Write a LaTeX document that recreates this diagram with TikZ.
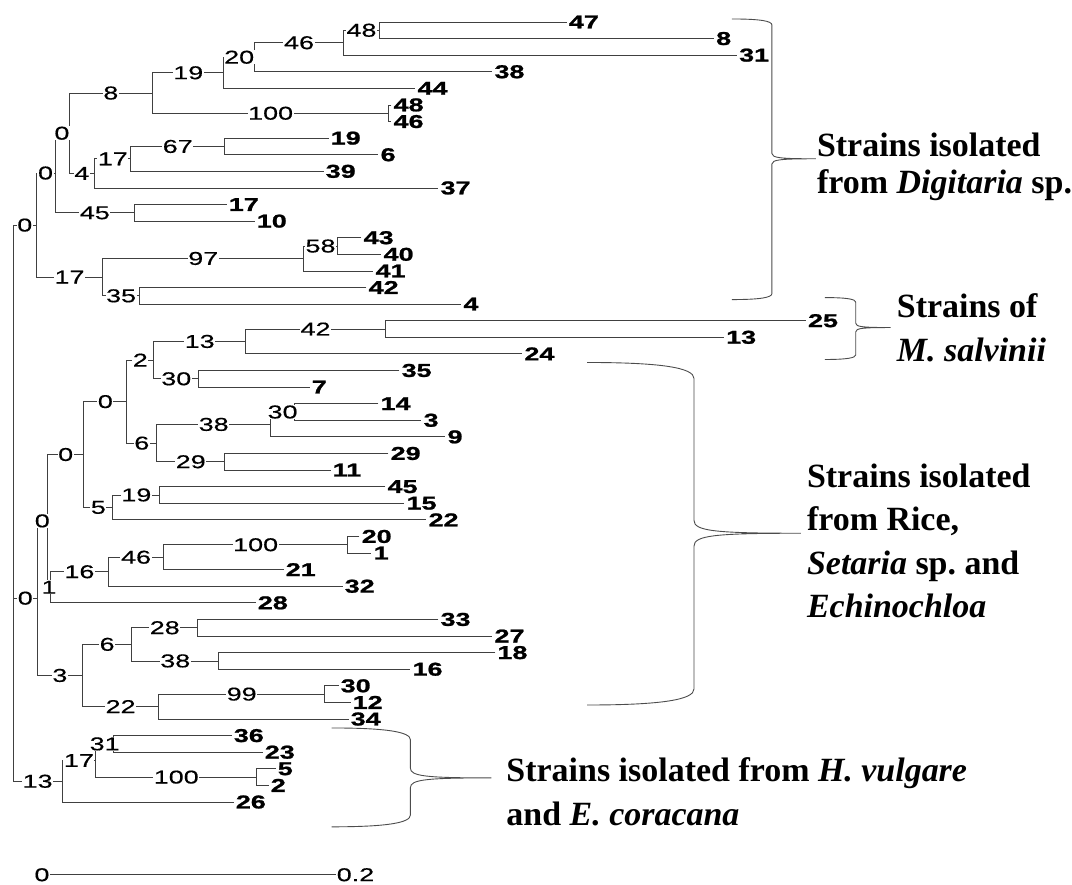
\documentclass[tikz,border=0pt]{standalone}
\usepackage{fontspec}
\usetikzlibrary{calc}

\newfontfamily\bootfont[FakeStretch=1.45, FakeBold=0.4]{Liberation Sans}
\newfontfamily\strainfont[FakeStretch=1.45, FakeBold=1.2]{Liberation Sans Bold}
\newfontfamily\capfont{Liberation Serif}

\tikzset{
    treeline/.style={draw=black!75, line width=0.8pt},
    strain/.style={anchor=west, inner sep=2pt, font=\strainfont\fontsize{18.6}{20}\selectfont},
    boot/.style={fill=white, inner sep=0.6pt, font=\bootfont\fontsize{18.6}{20}\selectfont},
    grouptext/.style={anchor=base west, inner sep=0pt, font=\capfont\bfseries\fontsize{34}{37}\selectfont},
    bracket/.style={draw=black!70, line width=0.9pt}
}

% curly bracket: open end x, spine x, point x, top y, point y, bottom y
\newcommand{\cladebracket}[6]{%
    \draw[bracket] (#1,#4)
        .. controls ({#2-0.3*(#2-#1)},#4) and (#2,{#4+0.05*(#2-#1)}) .. (#2,{#4+0.15*(#2-#1)})
        -- (#2,{#5-0.12*(#3-#2)})
        .. controls (#2,{#5-0.02*(#3-#2)}) and ({#2+0.2*(#3-#2)},#5) .. (#3,#5)
        .. controls ({#2+0.2*(#3-#2)},#5) and (#2,{#5+0.02*(#3-#2)}) .. (#2,{#5+0.12*(#3-#2)})
        -- (#2,{#6-0.15*(#2-#1)})
        .. controls (#2,{#6-0.05*(#2-#1)}) and ({#2-0.3*(#2-#1)},#6) .. (#1,#6);
}

\begin{document}
\begin{tikzpicture}[x=1pt, y=-1pt]

    % Define parameters for easy adjustment
    \def\leaftop{22}      % y of the first strain
    \def\leafgap{16.62}   % distance between strains

    \fill[white] (0,0) rectangle (1072,886);

    % 1. Strains (tips)
    \foreach \s/\i/\tx in {47/0/567.5, 8/1/715, 31/2/738, 38/3/493, 44/4/416, 48/5/392,
        46/6/392, 19/7/329, 6/8/379, 39/9/324, 37/10/439, 17/11/227, 10/12/255,
        43/13/362, 40/14/382, 41/15/374, 42/16/367, 4/17/462, 25/18/807, 13/19/725,
        24/20/523, 35/21/400, 7/22/310, 14/23/379, 3/24/422, 9/25/446, 29/26/389,
        11/27/331, 45/28/386, 15/29/405, 22/30/427, 20/31/360, 1/32/372, 21/33/284,
        32/34/343, 28/35/256, 33/36/439, 27/37/493, 18/38/496, 16/39/411, 30/40/339,
        12/41/351, 34/42/349, 36/43/232, 23/44/263, 5/45/276, 2/46/269, 26/47/234} {
        \coordinate (s\s) at (\tx, {\leaftop+\leafgap*\i});
        \node[strain] (t\s) at (s\s) {\s};
    }

    % 2. Internal nodes (children first) and their branches
    \foreach \nd/\cx/\ca/\cb in {a48/380/s47/s8, a46/344/a48/s31, a20/255/a46/s38,
        a19/224/a20/s44, a100/389/s48/s46, a8/153/a19/a100, a67/225/s19/s6,
        a17/131/a67/s39, a4/95/a17/s37, a0c/69/a8/a4, a45/135/s17/s10, a0b/55/a0c/a45,
        a58/338/s43/s40, a97/304/a58/s41, a35/139.5/s42/s4, a17b/103/a97/a35,
        a0a/36.2/a0b/a17b,
        b42/386/s25/s13, b13/246/b42/s24, b30/199/s35/s7, b2/154/b13/b30,
        b30b/295/s14/s3, b38/271/b30b/s9, b29/225/s29/s11, b6/157/b38/b29,
        b0e/127/b2/b6, b19/160/s45/s15, b5/113/b19/s22, b0d/84/b0e/b5,
        b100/348/s20/s1, b46/164/b100/s21, b16/108.5/b46/s32, b1/50.6/b16/s28,
        b0f/47.5/b0d/b1, b28/198/s33/s27, b38b/219/s18/s16, b6b/132/b28/b38b,
        b99/325/s30/s12, b22/159/b99/s34, b3/82.6/b6b/b22, b0g/37.2/b0f/b3,
        c31/113.6/s36/s23, c100/257/s5/s2, c17/96/c31/c100, c13/62/c17/s26,
        root/13.4/a0a/c13} {
        \path let \p1 = ($(\ca)!0.5!(\cb)$) in (\cx pt,\y1) coordinate (\nd);
        \draw[treeline] (\ca) -| (\nd) |- (\cb);
    }
    \draw[treeline] (root |- b0g) -- (b0g);

    % 3. Bootstrap values on the branches
    \foreach \pa/\ch/\bs in {root/a0a/0, root/b0g/0, root/c13/13, a0a/a0b/0,
        a0a/a17b/17, a0b/a0c/0, a0b/a45/45, a0c/a8/8, a0c/a4/4, a8/a19/19,
        a8/a100/100, a19/a20/20, a20/a46/46, a46/a48/48, a4/a17/17, a17/a67/67,
        a17b/a97/97, a17b/a35/35, a97/a58/58, b0g/b0f/0, b0g/b3/3, b0f/b0d/0,
        b0f/b1/1, b0d/b0e/0, b0d/b5/5, b0e/b2/2, b0e/b6/6, b2/b13/13, b2/b30/30,
        b13/b42/42, b6/b38/38, b6/b29/29, b38/b30b/30, b5/b19/19, b1/b16/16,
        b16/b46/46, b46/b100/100, b3/b6b/6, b3/b22/22, b6b/b28/28, b6b/b38b/38,
        b22/b99/99, c13/c17/17, c17/c31/31, c17/c100/100} {
        \node[boot] (l\ch) at ($(\pa |- \ch)!0.5!(\ch)$) {\bs};
    }

    % 4. Brackets and group names
    \cladebracket{733}{773}{817}{19}{159}{300}
    \node[grouptext] (dig1) at (818,157) {Strains isolated};
    \node[grouptext] (dig2) at ([yshift=-37pt]dig1.base west) {from \textit{Digitaria} sp.};

    \cladebracket{826}{857}{892}{298}{328}{360}
    \node[grouptext] (msa1) at (898,318) {Strains of};
    \node[grouptext] (msa2) at ([yshift=-44pt]msa1.base west) {\textit{M.\ salvinii}};

    \cladebracket{588}{695}{802}{363}{534}{706}
    \node[grouptext] (ric1) at (808,488) {Strains isolated};
    \node[grouptext] (ric2) at ([yshift=-43.5pt]ric1.base west) {from Rice,};
    \node[grouptext] (ric3) at ([yshift=-43.5pt]ric2.base west) {\textit{Setaria} sp.\ and};
    \node[grouptext] (ric4) at ([yshift=-43.5pt]ric3.base west) {\textit{Echinochloa}};

    \cladebracket{332}{411}{492}{729}{779}{828}
    \node[grouptext] (hvu1) at (507,783) {Strains isolated from \textit{H.\ vulgare}};
    \node[grouptext] (hvu2) at ([yshift=-44pt]hvu1.base west) {and \textit{E.\ coracana}};

    % 5. Scale bar
    \node[boot, inner sep=0.5pt] (sb0) at (42,876) {0};
    \node[boot, inner sep=0.5pt] (sb1) at (356,876) {0.2};
    \draw[treeline] (sb0) -- (sb1);
\end{tikzpicture}
\end{document}
